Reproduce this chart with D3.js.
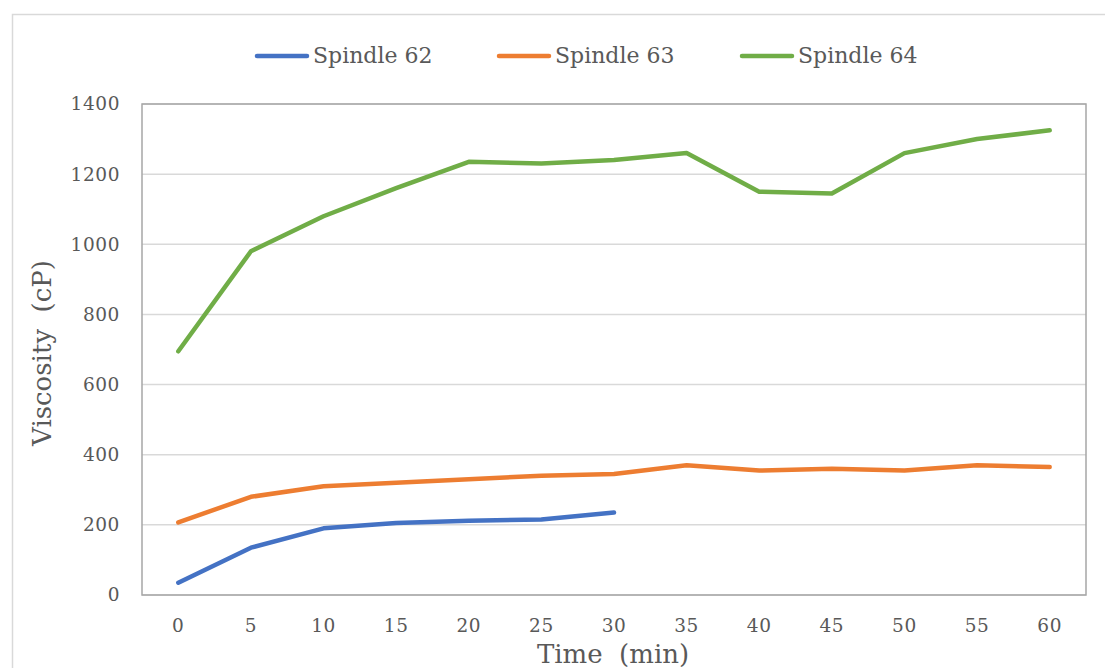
<!DOCTYPE html>
<html>
<head>
<meta charset="utf-8">
<script src="https://cdn.jsdelivr.net/npm/d3@7"></script>
<style>
  html, body { margin: 0; padding: 0; background: #fff; }
  svg { display: block; }
  text { font-family: "DejaVu Serif", "Liberation Serif", serif; fill: #595959; }
</style>
</head>
<body>
<svg id="chart" width="1105" height="668"></svg>
<script>
// Viscosity readings over time for three spindles
const times = [0, 5, 10, 15, 20, 25, 30, 35, 40, 45, 50, 55, 60];
const spindle62 = [35, 135, 190, 205, 212, 215, 235];
const spindle63 = [207, 280, 310, 320, 330, 340, 345, 370, 355, 360, 355, 370, 365];
const spindle64 = [695, 980, 1080, 1160, 1235, 1230, 1240, 1260, 1150, 1145, 1260, 1300, 1325];
const yTicks = [0, 200, 400, 600, 800, 1000, 1200, 1400];
const seriesNames = ["Spindle 62", "Spindle 63", "Spindle 64"];
const seriesColors = ["#4472C4", "#ED7D31", "#70AD47"];

const svg = d3.select("#chart");
const plot = { left: 142, right: 1086, top: 104, bottom: 595 };

// outer chart frame
svg.append("rect")
  .attr("x", 12.5).attr("y", 14.5)
  .attr("width", 1105).attr("height", 680)
  .attr("fill", "none").attr("stroke", "#d9d9d9").attr("stroke-width", 1.5);

const x = d3.scaleBand().domain(times).range([plot.left, plot.right]);
const y = d3.scaleLinear().domain([0, 1400]).range([plot.bottom, plot.top]);

// horizontal gridlines
svg.append("g")
  .selectAll("line")
  .data(yTicks)
  .join("line")
  .attr("x1", plot.left).attr("x2", plot.right)
  .attr("y1", d => y(d)).attr("y2", d => y(d))
  .attr("stroke", "#d9d9d9").attr("stroke-width", 1.5);

// plot area border
svg.append("rect")
  .attr("x", plot.left).attr("y", plot.top)
  .attr("width", plot.right - plot.left).attr("height", plot.bottom - plot.top)
  .attr("fill", "none").attr("stroke", "#a6a6a6").attr("stroke-width", 1.5);

// y axis labels
const yAxis = d3.axisLeft(y).tickValues(yTicks).tickFormat(d3.format("d")).tickSize(0).tickPadding(22);
const gy = svg.append("g").attr("transform", `translate(${plot.left},0)`).call(yAxis);
gy.select(".domain").remove();
gy.selectAll("text")
  .style("font-family", "DejaVu Serif")
  .style("font-size", "18.5px")
  .style("letter-spacing", "0.6px")
  .attr("fill", "#595959");

// x axis labels
const xAxis = d3.axisBottom(x).tickSize(0).tickPadding(24);
const gx = svg.append("g").attr("transform", `translate(0,${plot.bottom})`).call(xAxis);
gx.select(".domain").remove();
gx.selectAll("text")
  .style("font-family", "DejaVu Serif")
  .style("font-size", "18.5px")
  .style("letter-spacing", "0.6px")
  .attr("fill", "#595959");

// axis titles
svg.append("text")
  .attr("transform", `translate(51,353) rotate(-90)`)
  .attr("text-anchor", "middle")
  .style("font-size", "26px")
  .text("Viscosity\u00a0\u00a0(cP)");

svg.append("text")
  .attr("x", 613).attr("y", 663)
  .attr("text-anchor", "middle")
  .style("font-size", "26px")
  .text("Time\u00a0\u00a0(min)");

// series lines
const line = d3.line()
  .x((d, i) => x(times[i]) + x.bandwidth() / 2)
  .y(d => y(d));

[spindle62, spindle63, spindle64].forEach((vals, i) => {
  svg.append("path")
    .datum(vals)
    .attr("d", line)
    .attr("fill", "none")
    .attr("stroke", seriesColors[i])
    .attr("stroke-width", 4.5)
    .attr("stroke-linecap", "round")
    .attr("stroke-linejoin", "round");
});

// legend
const legendX = [255, 497, 740];
const legend = svg.append("g");
seriesNames.forEach((name, i) => {
  legend.append("line")
    .attr("x1", legendX[i] + 2).attr("x2", legendX[i] + 52)
    .attr("y1", 56).attr("y2", 56)
    .attr("stroke", seriesColors[i])
    .attr("stroke-width", 4.5)
    .attr("stroke-linecap", "round");
  legend.append("text")
    .attr("x", legendX[i] + 58).attr("y", 63)
    .style("font-size", "22px")
    .text(name);
});
</script>
</body>
</html>
